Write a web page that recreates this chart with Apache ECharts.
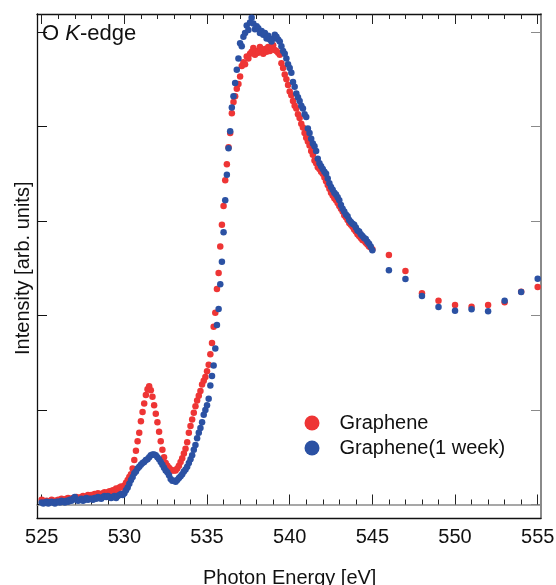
<!DOCTYPE html>
<html><head><meta charset="utf-8">
<script src="https://cdn.jsdelivr.net/npm/echarts@6/dist/echarts.min.js"></script>
<style>html,body{margin:0;padding:0;background:#fff}#c{width:556px;height:585px}</style>
</head><body><div id="c"></div>
<script>
// Photon energy (eV): dense scan 525.0-545.0 then sparse 546-555
const energyDense = [
525.0,525.1,525.2,525.3,525.4,525.5,525.6,525.7,525.8,525.9,
526.0,526.1,526.2,526.3,526.4,526.5,526.6,526.7,526.8,526.9,
527.0,527.1,527.2,527.3,527.4,527.5,527.6,527.7,527.8,527.9,
528.0,528.1,528.2,528.3,528.4,528.5,528.6,528.7,528.8,528.9,
529.0,529.1,529.2,529.3,529.4,529.5,529.6,529.7,529.8,529.9,
530.0,530.1,530.2,530.3,530.4,530.5,530.6,530.7,530.8,530.9,
531.0,531.1,531.2,531.3,531.4,531.5,531.6,531.7,531.8,531.9,
532.0,532.1,532.2,532.3,532.4,532.5,532.6,532.7,532.8,532.9,
533.0,533.1,533.2,533.3,533.4,533.5,533.6,533.7,533.8,533.9,
534.0,534.1,534.2,534.3,534.4,534.5,534.6,534.7,534.8,534.9,
535.0,535.1,535.2,535.3,535.4,535.5,535.6,535.7,535.8,535.9,
536.0,536.1,536.2,536.3,536.4,536.5,536.6,536.7,536.8,536.9,
537.0,537.1,537.2,537.3,537.4,537.5,537.6,537.7,537.8,537.9,
538.0,538.1,538.2,538.3,538.4,538.5,538.6,538.7,538.8,538.9,
539.0,539.1,539.2,539.3,539.4,539.5,539.6,539.7,539.8,539.9,
540.0,540.1,540.2,540.3,540.4,540.5,540.6,540.7,540.8,540.9,
541.0,541.1,541.2,541.3,541.4,541.5,541.6,541.7,541.8,541.9,
542.0,542.1,542.2,542.3,542.4,542.5,542.6,542.7,542.8,542.9,
543.0,543.1,543.2,543.3,543.4,543.5,543.6,543.7,543.8,543.9,
544.0,544.1,544.2,544.3,544.4,544.5,544.6,544.7,544.8,544.9,
545.0];
const energyTail = [546,547,548,549,550,551,552,553,554,555];

const grapheneDense = [
0.05,0.04,0.03,0.04,0.02,0.03,0.05,0.03,0.04,0.04,
0.05,0.04,0.06,0.05,0.04,0.06,0.07,0.05,0.06,0.07,
0.06,0.08,0.07,0.06,0.08,0.09,0.07,0.08,0.10,0.09,
0.10,0.09,0.11,0.10,0.12,0.11,0.10,0.12,0.13,0.12,
0.13,0.14,0.13,0.15,0.14,0.17,0.16,0.18,0.19,0.18,
0.20,0.23,0.26,0.29,0.32,0.38,0.47,0.57,0.67,0.76,
0.88,0.98,1.07,1.16,1.22,1.25,1.21,1.14,1.05,0.96,
0.87,0.77,0.67,0.58,0.50,0.44,0.41,0.39,0.37,0.36,
0.36,0.36,0.38,0.41,0.45,0.49,0.54,0.59,0.66,0.76,
0.83,0.90,0.97,1.04,1.10,1.15,1.20,1.27,1.31,1.35,
1.41,1.48,1.59,1.71,1.88,2.03,2.28,2.45,2.73,2.96,
3.16,3.43,3.60,3.78,3.93,4.14,4.26,4.32,4.40,4.45,
4.53,4.64,4.68,4.66,4.74,4.72,4.77,4.79,4.83,4.76,
4.80,4.78,4.84,4.80,4.77,4.82,4.79,4.84,4.80,4.83,
4.86,4.81,4.80,4.78,4.76,4.67,4.62,4.55,4.50,4.44,
4.37,4.33,4.27,4.22,4.19,4.13,4.09,4.03,3.99,3.93,
3.88,3.84,3.80,3.74,3.70,3.64,3.61,3.57,3.55,3.52,
3.50,3.46,3.42,3.38,3.34,3.30,3.27,3.24,3.22,3.19,
3.16,3.13,3.10,3.06,3.04,3.01,2.98,2.96,2.94,2.91,
2.89,2.86,2.84,2.82,2.80,2.79,2.77,2.75,2.73,2.72,
2.70];
const grapheneTail = [2.64,2.47,2.235,2.157,2.111,2.093,2.111,2.140,2.25,2.302];

const weekDense = [
0.02,0.01,0.02,0.03,0.01,0.02,0.03,0.02,0.01,0.03,
0.03,0.02,0.04,0.03,0.02,0.04,0.03,0.05,0.04,0.06,
0.08,0.05,0.04,0.05,0.06,0.04,0.05,0.07,0.05,0.06,
0.06,0.05,0.07,0.06,0.08,0.07,0.06,0.08,0.09,0.08,
0.09,0.08,0.07,0.08,0.09,0.07,0.09,0.10,0.11,0.10,
0.12,0.15,0.18,0.22,0.26,0.29,0.33,0.35,0.38,0.40,
0.42,0.44,0.45,0.47,0.48,0.50,0.52,0.53,0.53,0.52,
0.50,0.48,0.45,0.42,0.39,0.36,0.34,0.31,0.27,0.25,
0.25,0.24,0.26,0.28,0.30,0.32,0.35,0.37,0.40,0.44,
0.48,0.52,0.58,0.63,0.70,0.76,0.81,0.87,0.95,1.00,
1.05,1.12,1.26,1.36,1.47,1.65,1.90,2.07,2.33,2.57,
2.88,3.22,3.49,3.77,3.95,4.20,4.32,4.46,4.60,4.72,
4.88,4.85,4.95,4.99,5.07,5.02,5.10,5.15,5.09,5.03,
5.06,5.04,4.99,5.01,4.97,4.99,4.93,4.96,4.92,4.90,
4.93,4.97,4.95,4.92,4.90,4.85,4.80,4.77,4.72,4.66,
4.62,4.57,4.47,4.42,4.35,4.31,4.27,4.22,4.19,4.13,
4.10,3.98,3.93,3.87,3.82,3.79,3.74,3.66,3.61,3.58,
3.55,3.52,3.50,3.45,3.40,3.36,3.33,3.30,3.28,3.25,
3.22,3.17,3.13,3.10,3.07,3.05,3.01,2.99,2.97,2.96,
2.93,2.90,2.89,2.86,2.84,2.82,2.81,2.78,2.76,2.73,
2.69];
const weekTail = [2.48,2.386,2.206,2.09,2.051,2.066,2.044,2.157,2.249,2.389];

const seriesNames = ['Graphene', 'Graphene(1 week)'];
const seriesColors = ['#ee3535', '#2b51a3'];

const energy = energyDense.concat(energyTail);
const graphene = grapheneDense.concat(grapheneTail);
const week = weekDense.concat(weekTail);

const FONT = 'Liberation Sans, Arial, Helvetica, sans-serif';
const chart = echarts.init(document.getElementById('c'), null, {renderer: 'canvas'});

const xTickAxis = (pos) => ({
  type: 'value', gridIndex: 0, position: pos, min: 525, max: 555, interval: 5,
  axisLine: {show: false},
  axisTick: {show: true, inside: true, length: 10, lineStyle: {color: '#222', width: 1}},
  minorTick: {show: true, splitNumber: 5, length: 5, lineStyle: {color: '#222', width: 1}},
  splitLine: {show: false}, minorSplitLine: {show: false},
  axisLabel: pos === 'bottom'
    ? {show: true, fontSize: 20, fontFamily: FONT, color: '#111', margin: 9}
    : {show: false}
});

const frameAxis = (pos, color, width) => ({
  type: 'value', gridIndex: 1, position: pos, min: 0, max: 1,
  axisLine: {show: true, onZero: false, lineStyle: {color: color, width: width}},
  axisTick: {show: false}, axisLabel: {show: false}, splitLine: {show: false}
});

const yTickAxis = (pos, color) => ({
  type: 'value', gridIndex: 2, position: pos, min: 0, max: 5, interval: 1,
  axisLine: {show: false},
  axisTick: {show: true, inside: true, length: 10, lineStyle: {color: color, width: 1}},
  axisLabel: {show: false}, splitLine: {show: false}
});

const option = {
  animation: false,
  backgroundColor: '#fff',
  title: {
    text: '{n|O }{i|K}{n|-edge}',
    left: 37, top: 18,
    textStyle: {
      fontWeight: 'normal',
      rich: {
        n: {fontSize: 22, fontFamily: FONT, color: '#111', fontWeight: 'normal'},
        i: {fontSize: 22, fontFamily: FONT, color: '#111', fontWeight: 'normal', fontStyle: 'italic'}
      }
    }
  },
  legend: {
    orient: 'vertical', left: 299.5, top: 408,
    icon: 'circle', itemWidth: 15, itemHeight: 15, itemGap: 5,
    textStyle: {fontSize: 20, fontFamily: FONT, color: '#111', padding: [0, 0, 0, 15]},
    data: seriesNames
  },
  grid: [
    {left: 41.7, right: 18.3, top: 14, bottom: 67, containLabel: false, outerBoundsMode: 'none'},
    {left: 37, right: 15, top: 14, bottom: 67, containLabel: false, outerBoundsMode: 'none'},
    {left: 37, right: 15, top: 32, bottom: 80.5, containLabel: false, outerBoundsMode: 'none'}
  ],
  xAxis: [
    Object.assign(xTickAxis('bottom'), {
      name: 'Photon Energy [eV]', nameLocation: 'middle', nameGap: 50,
      nameTextStyle: {fontSize: 20, fontFamily: FONT, color: '#111'}
    }),
    xTickAxis('top'),
    frameAxis('bottom', '#111', 1.3),
    frameAxis('top', '#111', 1.3),
    {
      type: 'value', gridIndex: 2, position: 'bottom', min: 0, max: 1,
      axisLine: {show: true, onZero: false, lineStyle: {color: '#8a8a8a', width: 1.6}},
      axisTick: {show: false}, axisLabel: {show: false}, splitLine: {show: false}
    }
  ],
  yAxis: [
    {type: 'value', gridIndex: 0, min: -0.1429, max: 5.1905, show: false},
    frameAxis('left', '#111', 1.3),
    frameAxis('right', '#8a8a8a', 2),
    Object.assign(yTickAxis('left', '#111'), {
      name: 'Intensity [arb. units]', nameLocation: 'middle', nameGap: 4,
      nameTextStyle: {fontSize: 20, fontFamily: FONT, color: '#111'}
    }),
    yTickAxis('right', '#8a8a8a')
  ],
  series: [
    {
      name: seriesNames[0], type: 'scatter', xAxisIndex: 0, yAxisIndex: 0,
      symbol: 'circle', symbolSize: 6.5, clip: false,
      itemStyle: {color: seriesColors[0], opacity: 1},
      data: energy.map((x, i) => [x, graphene[i]])
    },
    {
      name: seriesNames[1], type: 'scatter', xAxisIndex: 0, yAxisIndex: 0,
      symbol: 'circle', symbolSize: 6.5, clip: false,
      itemStyle: {color: seriesColors[1], opacity: 1},
      data: energy.map((x, i) => [x, week[i]])
    }
  ]
};
chart.setOption(option);
</script>
</body></html>
